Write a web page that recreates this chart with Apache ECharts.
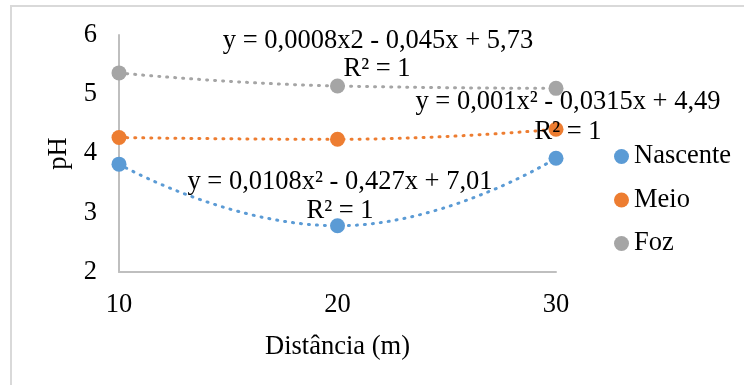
<!DOCTYPE html>
<html>
<head>
<meta charset="utf-8">
<script src="https://cdn.jsdelivr.net/npm/echarts@6/dist/echarts.min.js"></script>
<style>
  html, body { margin: 0; padding: 0; background: #fff; }
  #chart { width: 744px; height: 385px; }
</style>
</head>
<body>
<div id="chart"></div>
<script>
// Distance from the spring (m) and pH measured at each site
const distances = [10, 20, 30];
const nascente = [3.82, 2.78, 3.92];
const meio = [4.27, 4.24, 4.41];
const foz = [5.36, 5.14, 5.10];

const seriesNames = ['Nascente', 'Meio', 'Foz'];
const seriesColors = ['#5B9BD5', '#ED7D31', '#A5A5A5'];

// Trendline equations shown next to each curve
const equationTexts = [
  'y = 0,0108x² - 0,427x + 7,01',
  'y = 0,001x² - 0,0315x + 4,49',
  'y = 0,0008x2 - 0,045x + 5,73'
];
const r2Text = 'R² = 1';

const FONT = '"Liberation Serif", "Times New Roman", serif';
const FS = 26.5;

function pairs(values) {
  return distances.map((d, i) => [d, values[i]]);
}

function makeSeries(name, values, color) {
  return {
    name: name,
    type: 'line',
    data: pairs(values),
    smooth: 0.5,
    symbol: 'circle',
    symbolSize: 15,
    itemStyle: { color: color },
    lineStyle: { color: color, width: 3, type: [1, 7], cap: 'round' },
    emphasis: { disabled: true },
    z: 3
  };
}

const chart = echarts.init(document.getElementById('chart'));

function textEl(text, x, y) {
  return {
    type: 'text',
    x: x, y: y,
    z: 10,
    style: {
      text: text,
      font: FS + 'px ' + FONT,
      fill: '#000',
      align: 'center',
      verticalAlign: 'middle'
    }
  };
}

chart.setOption({
  animation: false,
  backgroundColor: '#fff',
  grid: { left: 119, right: 188, top: 35, bottom: 113 },
  xAxis: {
    type: 'value',
    min: 10, max: 30, interval: 10,
    name: 'Distância (m)',
    nameLocation: 'middle',
    nameGap: 62,
    nameTextStyle: { fontFamily: FONT, fontSize: FS, color: '#000' },
    axisLine: { show: true, lineStyle: { color: '#BFBFBF', width: 2 } },
    axisTick: { show: false },
    splitLine: { show: false },
    axisLabel: { fontFamily: FONT, fontSize: FS, color: '#000', margin: 20 }
  },
  yAxis: {
    type: 'value',
    min: 2, max: 6, interval: 1,
    name: 'pH',
    nameLocation: 'middle',
    nameGap: 36,
    nameRotate: 90,
    nameTextStyle: { fontFamily: FONT, fontSize: FS, color: '#000' },
    axisLine: { show: true, lineStyle: { color: '#BFBFBF', width: 2 } },
    axisTick: { show: false },
    splitLine: { show: false },
    axisLabel: { fontFamily: FONT, fontSize: FS, color: '#000', margin: 22 }
  },
  legend: {
    orient: 'vertical',
    left: 609,
    top: 138,
    itemGap: 16.5,
    itemWidth: 15,
    itemHeight: 15,
    icon: 'circle',
    textStyle: { fontFamily: FONT, fontSize: FS, color: '#000' },
    data: seriesNames
  },
  series: [
    makeSeries(seriesNames[0], nascente, seriesColors[0]),
    makeSeries(seriesNames[1], meio, seriesColors[1]),
    makeSeries(seriesNames[2], foz, seriesColors[2])
  ],
  graphic: [
    {
      type: 'rect',
      shape: { x: 11, y: 6, width: 900, height: 600 },
      style: { fill: 'none', stroke: '#D9D9D9', lineWidth: 2 },
      silent: true,
      z: 0
    },
    textEl(equationTexts[2], 378, 41),
    textEl(r2Text, 377, 69),
    textEl(equationTexts[1], 568, 102),
    textEl(r2Text, 568, 132),
    textEl(equationTexts[0], 340, 182),
    textEl(r2Text, 340, 211)
  ]
});
</script>
</body>
</html>
